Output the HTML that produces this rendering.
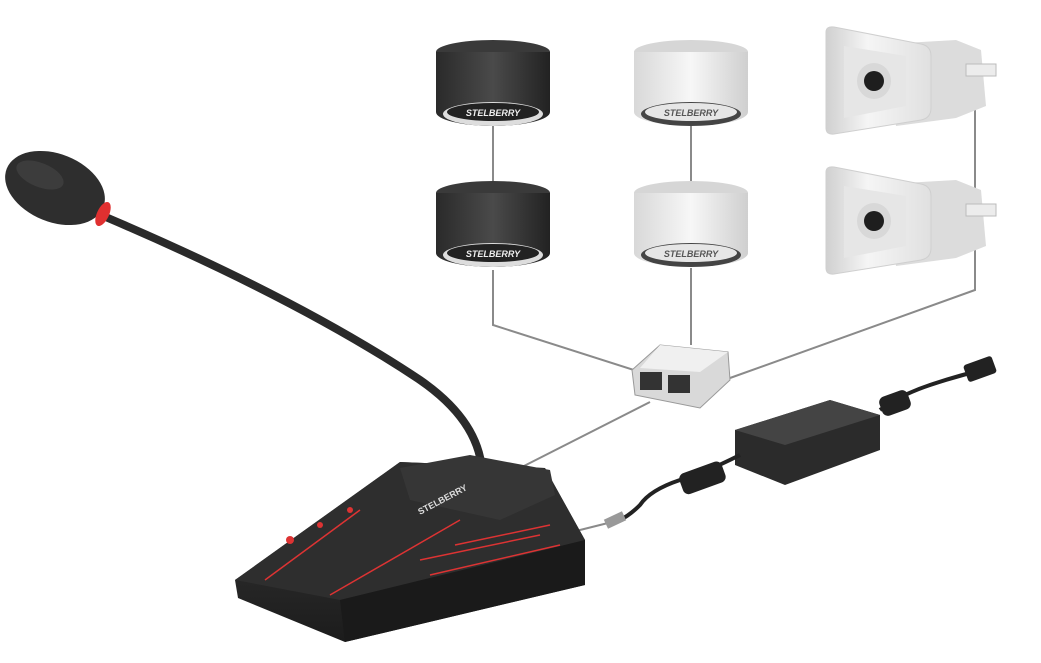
<!DOCTYPE html>
<html><head><meta charset="utf-8"><style>
html,body{margin:0;padding:0;background:#fff;width:1041px;height:663px;overflow:hidden}
</style></head><body>
<svg width="1041" height="663" viewBox="0 0 1041 663" xmlns="http://www.w3.org/2000/svg">
<defs>
<linearGradient id="dk" x1="0" x2="1"><stop offset="0" stop-color="#2a2a2a"/><stop offset="0.5" stop-color="#4a4a4a"/><stop offset="1" stop-color="#222"/></linearGradient>
<linearGradient id="wh" x1="0" x2="1"><stop offset="0" stop-color="#d8d8d8"/><stop offset="0.5" stop-color="#f7f7f7"/><stop offset="1" stop-color="#cfcfcf"/></linearGradient>
<linearGradient id="base" x1="0" y1="0" x2="0" y2="1"><stop offset="0" stop-color="#3a3a3a"/><stop offset="1" stop-color="#1c1c1c"/></linearGradient>
<linearGradient id="hm" x1="0" x2="1"><stop offset="0" stop-color="#d0d0d0"/><stop offset="0.4" stop-color="#f5f5f5"/><stop offset="1" stop-color="#e0e0e0"/></linearGradient>
<g id="dspk">
<ellipse cx="0" cy="0" rx="57" ry="12" fill="#3a3a3a"/>
<path d="M-57 0 V60 A57 14 0 0 0 57 60 V0 Z" fill="url(#dk)"/>
<ellipse cx="0" cy="62" rx="50" ry="12" fill="#ddd"/>
<ellipse cx="0" cy="60" rx="46" ry="9" fill="#222"/>
<text x="0" y="64" font-family="Liberation Sans,sans-serif" font-size="9" font-weight="bold" font-style="italic" fill="#eee" text-anchor="middle">STELBERRY</text>
</g>
<g id="wspk">
<ellipse cx="0" cy="0" rx="57" ry="12" fill="#d6d6d6"/>
<path d="M-57 0 V60 A57 14 0 0 0 57 60 V0 Z" fill="url(#wh)"/>
<ellipse cx="0" cy="62" rx="50" ry="12" fill="#444"/>
<ellipse cx="0" cy="60" rx="46" ry="9" fill="#e6e6e6"/>
<text x="0" y="64" font-family="Liberation Sans,sans-serif" font-size="9" font-weight="bold" font-style="italic" fill="#555" text-anchor="middle">STELBERRY</text>
</g>
<g id="horn">
<path d="M60 18 L130 14 L155 24 L160 80 L130 92 L70 100Z" fill="#dcdcdc"/>
<rect x="140" y="38" width="30" height="12" fill="#ececec" stroke="#bbb"/>
<path d="M0 6 Q0 0 8 1 L95 18 Q105 20 105 30 L105 82 Q105 92 95 94 L8 108 Q0 109 0 102Z" fill="url(#hm)" stroke="#cfcfcf"/>
<path d="M18 20 L80 30 L80 80 L18 92Z" fill="#e6e6e6"/>
<ellipse cx="48" cy="55" rx="17" ry="18" fill="#d8d8d8"/>
<circle cx="48" cy="55" r="10" fill="#1e1e1e"/>
</g>
</defs>
<g stroke="#8a8a8a" stroke-width="2" fill="none">
<line x1="493" y1="120" x2="493" y2="190"/>
<line x1="691" y1="120" x2="691" y2="190"/>
<line x1="975" y1="70" x2="975" y2="210"/>
<polyline points="493,270 493,325 640,372"/>
<line x1="691" y1="268" x2="691" y2="345"/>
<polyline points="975,240 975,290 730,378"/>
<line x1="650" y1="402" x2="520" y2="468"/>
<line x1="560" y1="535" x2="612" y2="522"/>
</g>
<use href="#dspk" x="493" y="52"/>
<use href="#dspk" x="493" y="193"/>
<use href="#wspk" x="691" y="52"/>
<use href="#wspk" x="691" y="193"/>
<use href="#horn" x="826" y="26"/>
<use href="#horn" x="826" y="166"/>
<!-- junction box -->
<path d="M632 370 L660 345 L728 352 L730 380 L700 408 L635 395Z" fill="#d9d9d9" stroke="#999"/>
<path d="M660 345 L728 352 L700 372 L640 368Z" fill="#f0f0f0"/>
<rect x="640" y="372" width="22" height="18" fill="#333"/>
<rect x="668" y="375" width="22" height="18" fill="#333"/>
<!-- power supply -->
<path d="M735 430 L830 400 L880 415 L880 450 L785 485 L735 465Z" fill="#2b2b2b"/>
<path d="M735 430 L830 400 L880 415 L785 445Z" fill="#444"/>
<g stroke="#222" stroke-width="4" fill="none">
<path d="M880 410 Q900 395 930 385 Q960 375 990 368"/>
<path d="M740 455 Q700 475 680 480 Q650 490 640 505 Q630 515 620 520"/>
</g>
<rect x="880" y="393" width="30" height="20" rx="6" fill="#222" transform="rotate(-20 895 403)"/>
<rect x="680" y="467" width="45" height="22" rx="6" fill="#222" transform="rotate(-20 702 478)"/>
<rect x="965" y="360" width="30" height="18" rx="3" fill="#222" transform="rotate(-20 980 369)"/>
<rect x="605" y="515" width="20" height="10" fill="#999" transform="rotate(-25 615 520)"/>
<!-- mic -->
<path d="M108 218 Q300 300 420 380 Q478 420 482 470" stroke="#2a2a2a" stroke-width="8" fill="none" stroke-linecap="round"/>
<ellipse cx="55" cy="188" rx="52" ry="34" fill="#2e2e2e" transform="rotate(22 55 188)"/>
<ellipse cx="40" cy="175" rx="25" ry="12" fill="#3c3c3c" transform="rotate(22 40 175)"/>
<ellipse cx="103" cy="214" rx="6" ry="13" fill="#e03030" transform="rotate(25 103 214)"/>
<path d="M235 580 L400 462 L545 468 L585 540 L585 585 L345 642 L238 598Z" fill="url(#base)"/>
<path d="M235 580 L400 462 L545 468 L585 540 L340 600Z" fill="#2e2e2e"/>
<path d="M340 600 L585 540 L585 585 L345 642Z" fill="#1a1a1a"/>
<path d="M400 468 L470 455 L550 470 L555 495 L500 520 L410 500Z" fill="#363636"/>
<g stroke="#d33" stroke-width="1.5" fill="none">
<path d="M265 580 L360 510"/><path d="M330 595 L460 520"/><path d="M420 560 L540 535"/><path d="M430 575 L560 545"/><path d="M455 545 L550 525"/>
</g>
<g fill="#d33"><circle cx="290" cy="540" r="4"/><circle cx="320" cy="525" r="3"/><circle cx="350" cy="510" r="3"/></g>
<text x="420" y="515" font-family="Liberation Sans,sans-serif" font-size="9" font-weight="bold" fill="#ddd" transform="rotate(-28 420 515)">STELBERRY</text>
</svg>
</body></html>
